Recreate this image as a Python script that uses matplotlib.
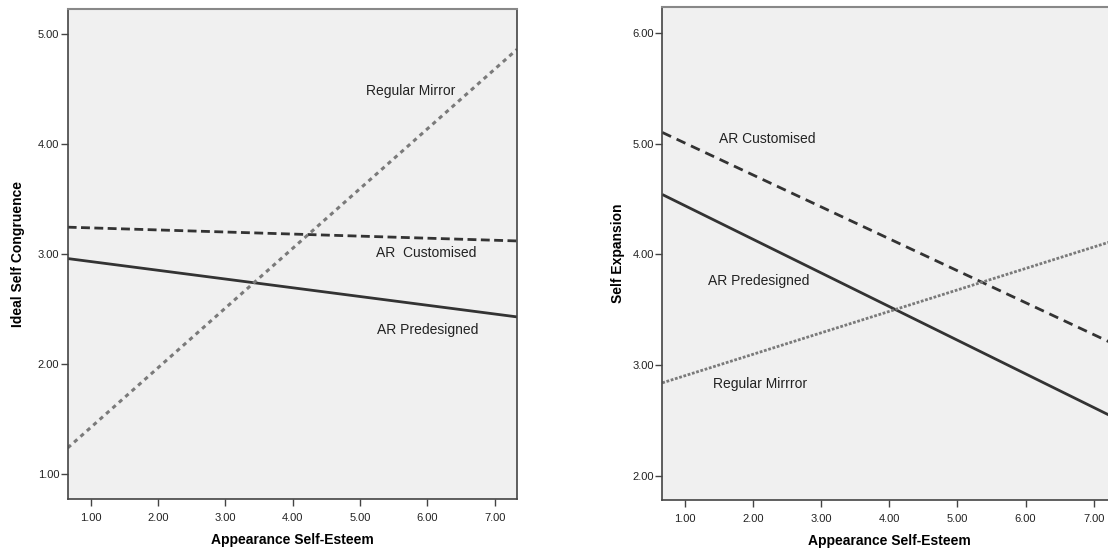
import matplotlib
matplotlib.use("Agg")
import matplotlib.pyplot as plt

plt.rcParams['font.family'] = ['Liberation Sans', 'DejaVu Sans']

# fitted lines: value at the low and high end of appearance self-esteem
x_left = [0.66, 7.33]
congruence_predesigned = [2.96, 2.43]
congruence_customised = [3.245, 3.12]
congruence_mirror = [1.24, 4.86]

x_right = [0.672, 7.33]
expansion_predesigned = [4.54, 2.517]
expansion_customised = [5.10, 3.18]
expansion_mirror = [2.84, 4.13]

ticks_x = [1, 2, 3, 4, 5, 6, 7]
ticks_left_y = [1, 2, 3, 4, 5]
ticks_right_y = [2, 3, 4, 5, 6]

BG = '#f0f0f0'
DARK = '#333333'
GREY = '#7a7a7a'


def style_axes(ax, xlim, ylim, yticks):
    ax.set_facecolor(BG)
    ax.set_xlim(*xlim)
    ax.set_ylim(*ylim)
    ax.set_xticks(ticks_x)
    ax.set_xticklabels([f"{t:.2f}" for t in ticks_x])
    ax.set_yticks(yticks)
    ax.set_yticklabels([f"{t:.2f}" for t in yticks])
    ax.tick_params(direction='out', length=5, width=1, color='#444444',
                   labelsize=8, labelcolor='#222222', pad=1)
    ax.tick_params(axis='x', pad=5)
    for side in ['left', 'bottom', 'right']:
        ax.spines[side].set_color('#444444')
        ax.spines[side].set_linewidth(1.2)
    ax.spines['top'].set_color('#888888')
    ax.spines['top'].set_linewidth(1.5)


fig = plt.figure(figsize=(11.08, 5.54), dpi=100)
fig.patch.set_facecolor('white')

# left panel: ideal self congruence
ax1 = fig.add_axes([0.0611, 0.0993, 0.4055, 0.8839])
style_axes(ax1, (0.66, 7.33), (0.776, 5.224), ticks_left_y)
ax1.plot(x_left, congruence_predesigned, color=DARK, lw=2.0, solid_capstyle='butt')
ax1.plot(x_left, congruence_customised, color=DARK, lw=2.0, dashes=(3.2, 1.6))
ax1.plot(x_left, congruence_mirror, color=GREY, lw=2.2, dashes=(1.4, 1.4))
ax1.text(5.75, 4.48, 'Regular Mirror', fontsize=10, ha='center', va='center', color='#222222')
ax1.text(5.98, 3.01, 'AR  Customised', fontsize=10, ha='center', va='center', color='#222222')
ax1.text(6.0, 2.31, 'AR Predesigned', fontsize=10, ha='center', va='center', color='#222222')
ax1.set_xlabel('Appearance Self-Esteem', fontsize=10, fontweight='bold', labelpad=7)
ax1.set_ylabel('Ideal Self Congruence', fontsize=10, fontweight='bold', labelpad=9)

# right panel: self expansion (runs past the figure edge)
ax2 = fig.add_axes([0.5977, 0.0975, 0.4098, 0.8893])
style_axes(ax2, (0.672, 7.33), (1.783, 6.229), ticks_right_y)
ax2.plot(x_right, expansion_predesigned, color=DARK, lw=2.0, solid_capstyle='butt')
ax2.plot(x_right, expansion_customised, color=DARK, lw=2.0, dashes=(3.5, 2.2))
ax2.plot(x_right, expansion_mirror, color=GREY, lw=2.0, dashes=(1, 0.6))
ax2.text(2.21, 5.04, 'AR Customised', fontsize=10, ha='center', va='center', color='#222222')
ax2.text(2.09, 3.76, 'AR Predesigned', fontsize=10, ha='center', va='center', color='#222222')
ax2.text(2.11, 2.83, 'Regular Mirrror', fontsize=10, ha='center', va='center', color='#222222')
ax2.set_xlabel('Appearance Self-Esteem', fontsize=10, fontweight='bold', labelpad=7)
ax2.set_ylabel('Self Expansion', fontsize=10, fontweight='bold', labelpad=5)

fig.savefig('out.png', dpi=100, facecolor='white')
